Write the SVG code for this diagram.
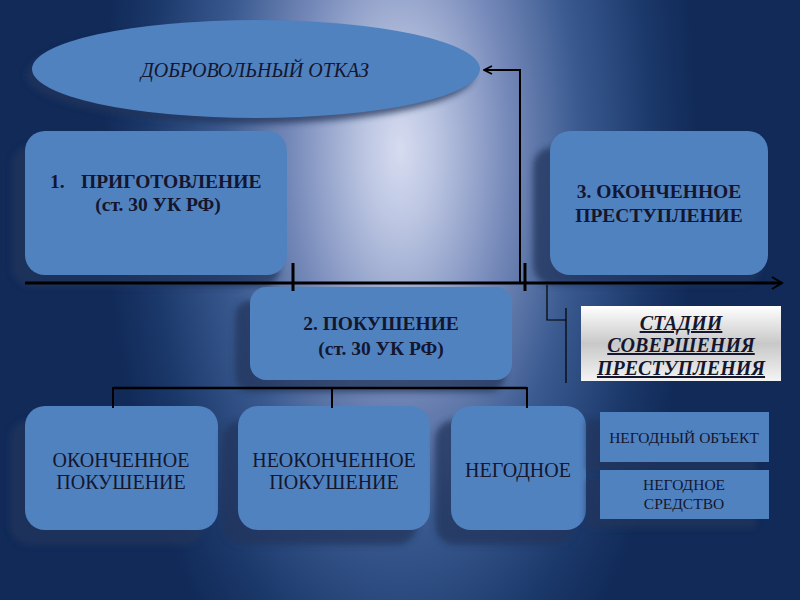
<svg xmlns="http://www.w3.org/2000/svg" width="800" height="600" viewBox="0 0 800 600">
<defs>
<radialGradient id="bg" gradientUnits="userSpaceOnUse" cx="400" cy="150" r="480" gradientTransform="translate(400 150) scale(0.62 1.3) translate(-400 -150)">
<stop offset="0" stop-color="#d6dcf0"/>
<stop offset="0.12" stop-color="#bcc6e2"/>
<stop offset="0.35" stop-color="#7a8dbc"/>
<stop offset="0.6" stop-color="#3a5a90"/>
<stop offset="0.85" stop-color="#1b386a"/>
<stop offset="1" stop-color="#112a58"/>
</radialGradient>
<linearGradient id="silver" x1="0" y1="0" x2="0" y2="1">
<stop offset="0" stop-color="#ffffff"/>
<stop offset="0.5" stop-color="#c8c8c8"/>
<stop offset="1" stop-color="#f4f4f4"/>
</linearGradient>
<filter id="blur" x="-20%" y="-20%" width="140%" height="140%">
<feGaussianBlur stdDeviation="3"/>
</filter>
<marker id="chev" viewBox="0 0 10 10" refX="9" refY="5" markerWidth="10" markerHeight="10" markerUnits="userSpaceOnUse" orient="auto">
<path d="M1 1 L9 5 L1 9" fill="none" stroke="#000" stroke-width="1.8"/>
</marker>
<marker id="chevbig" viewBox="0 0 14 14" refX="12" refY="7" markerWidth="14" markerHeight="14" markerUnits="userSpaceOnUse" orient="auto">
<path d="M2 1 L12 7 L2 13" fill="none" stroke="#000" stroke-width="2"/>
</marker>
</defs>
<style>
.box{fill:#5082c0;}
.sh{fill:#22365c;opacity:0.75;filter:url(#blur);}
.t{font-family:"Liberation Serif","Times New Roman",serif;fill:#14162e;text-anchor:middle;}
.st{text-anchor:start;}
.b{font-weight:bold;font-size:19.5px;}
.r{font-size:20px;}
.s{font-size:15.5px;}
.it{font-size:20px;font-style:italic;}
.u{font-size:20px;font-weight:bold;font-style:italic;text-decoration:underline;}
.ln{stroke:#000;fill:none;}
</style>
<rect width="800" height="600" fill="url(#bg)"/>

<g id="otkaz">
<ellipse cx="250" cy="75" rx="224" ry="49" class="sh"/>
<ellipse cx="256" cy="69" rx="224" ry="49" class="box"/>
<text x="255" y="77" class="t it">ДОБРОВОЛЬНЫЙ ОТКАЗ</text>
</g>

<g id="prigotovlenie">
<rect x="12" y="145" width="268" height="142" rx="20" class="sh"/>
<rect x="25" y="131" width="262" height="144" rx="20" class="box"/>
<text x="50" y="188" class="t st b">1.</text>
<text x="81" y="188" class="t st b">ПРИГОТОВЛЕНИЕ</text>
<text x="158" y="211" class="t b">(ст. 30 УК РФ)</text>
</g>

<g id="okonchennoe-prestuplenie">
<rect x="533" y="147" width="228" height="138" rx="20" class="sh"/>
<rect x="550" y="131" width="218" height="144" rx="20" class="box"/>
<text x="659" y="198" class="t b">3. ОКОНЧЕННОЕ</text>
<text x="659" y="222" class="t b">ПРЕСТУПЛЕНИЕ</text>
</g>

<g id="pokushenie">
<rect x="235" y="300" width="270" height="92" rx="16" class="sh"/>
<rect x="250" y="287" width="262" height="93" rx="16" class="box"/>
<text x="381" y="330" class="t b">2. ПОКУШЕНИЕ</text>
<text x="381" y="355" class="t b">(ст. 30 УК РФ)</text>
</g>

<g id="stadii">
<rect x="581" y="306" width="200" height="75" fill="url(#silver)"/>
<text x="681" y="330" class="t u">СТАДИИ</text>
<text x="681" y="352" class="t u">СОВЕРШЕНИЯ</text>
<text x="681" y="375" class="t u">ПРЕСТУПЛЕНИЯ</text>
</g>

<g id="okonchennoe-pokushenie">
<rect x="10" y="420" width="195" height="125" rx="20" class="sh"/>
<rect x="25" y="406" width="193" height="124" rx="20" class="box"/>
<text x="121" y="467" class="t r">ОКОНЧЕННОЕ</text>
<text x="121" y="489" class="t r">ПОКУШЕНИЕ</text>
</g>

<g id="neokonchennoe-pokushenie">
<rect x="222" y="420" width="195" height="125" rx="20" class="sh"/>
<rect x="238" y="406" width="192" height="124" rx="20" class="box"/>
<text x="334" y="467" class="t r">НЕОКОНЧЕННОЕ</text>
<text x="334" y="489" class="t r">ПОКУШЕНИЕ</text>
</g>

<g id="negodnoe">
<rect x="435" y="420" width="140" height="125" rx="20" class="sh"/>
<rect x="451" y="406" width="135" height="124" rx="20" class="box"/>
<text x="518" y="477" class="t r">НЕГОДНОЕ</text>
</g>

<g id="negodny-obekt">
<rect x="586" y="420" width="170" height="52" class="sh"/>
<rect x="600" y="412" width="169" height="50" class="box"/>
<text x="684" y="443" class="t s">НЕГОДНЫЙ ОБЪЕКТ</text>
</g>

<g id="negodnoe-sredstvo">
<rect x="586" y="478" width="170" height="50" class="sh"/>
<rect x="600" y="470" width="169" height="49" class="box"/>
<text x="684" y="490" class="t s">НЕГОДНОЕ</text>
<text x="684" y="509" class="t s">СРЕДСТВО</text>
</g>

<g id="connectors">
<line x1="25" y1="283" x2="782" y2="283" class="ln" stroke-width="3" marker-end="url(#chevbig)"/>
<line x1="293" y1="263" x2="293" y2="291" class="ln" stroke-width="3"/>
<line x1="525" y1="263" x2="525" y2="291" class="ln" stroke-width="3"/>
<polyline points="520,283 520,70 484,70" class="ln" stroke-width="2" marker-end="url(#chev)"/>
<polyline points="547,285 547,320 566,320" class="ln" stroke-width="1.2"/>
<line x1="566" y1="308" x2="566" y2="383" class="ln" stroke-width="1.2"/>
<line x1="113" y1="388" x2="527" y2="388" class="ln" stroke-width="2.5"/>
<line x1="113" y1="387" x2="113" y2="408" class="ln" stroke-width="2"/>
<line x1="332" y1="387" x2="332" y2="408" class="ln" stroke-width="2"/>
<line x1="527" y1="387" x2="527" y2="408" class="ln" stroke-width="2"/>
</g>
</svg>
